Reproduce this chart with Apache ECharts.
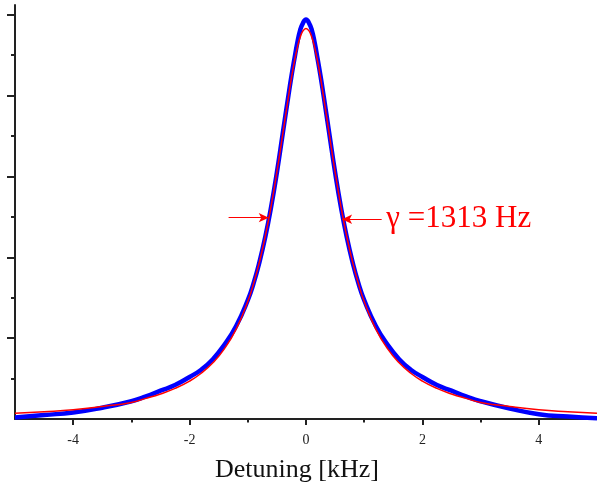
<!DOCTYPE html>
<html>
<head>
<meta charset="utf-8">
<script src="https://cdn.jsdelivr.net/npm/echarts@6/dist/echarts.min.js"></script>
<style>
  html, body { margin: 0; padding: 0; background: #fff; }
  #main { width: 597px; height: 488px; }
</style>
</head>
<body>
<div id="main"></div>
<script>
// 失谐量 (kHz)
var detuning = [-5, -4.5, -4, -3.5, -3, -2.75, -2.5, -2.25, -2, -1.8, -1.6, -1.4, -1.2, -1, -0.9, -0.8, -0.7, -0.6, -0.5, -0.4, -0.3, -0.25, -0.2, -0.15, -0.1, -0.05,
  0, 0.05, 0.1, 0.15, 0.2, 0.25, 0.3, 0.4, 0.5, 0.6, 0.7, 0.8, 0.9, 1, 1.2, 1.4, 1.6, 1.8, 2, 2.25, 2.5, 2.75, 3, 3.5, 4, 4.5, 5];
// 测量信号 (蓝)
var signalVals = [0.02, 0.05, 0.08, 0.14, 0.22, 0.28, 0.35, 0.42, 0.52, 0.61, 0.74, 0.92, 1.15, 1.47, 1.68, 1.94, 2.25, 2.62, 3.05, 3.53, 4.01, 4.24, 4.45, 4.65, 4.81, 4.90,
  4.94, 4.90, 4.81, 4.65, 4.45, 4.24, 4.01, 3.53, 3.05, 2.62, 2.25, 1.94, 1.68, 1.47, 1.15, 0.92, 0.74, 0.61, 0.52, 0.42, 0.35, 0.28, 0.22, 0.13, 0.06, 0.03, 0.01];
// 洛伦兹拟合 (红)
var fitVals = [0.07, 0.09, 0.115, 0.155, 0.205, 0.255, 0.31, 0.378, 0.469, 0.566, 0.695, 0.87, 1.111, 1.453, 1.676, 1.942, 2.258, 2.63, 3.055, 3.521, 3.994, 4.218, 4.419, 4.59, 4.72, 4.802,
  4.83, 4.802, 4.72, 4.59, 4.419, 4.218, 3.994, 3.521, 3.055, 2.63, 2.258, 1.942, 1.676, 1.453, 1.111, 0.87, 0.695, 0.566, 0.469, 0.378, 0.31, 0.255, 0.205, 0.155, 0.115, 0.09, 0.07];
// 刻度
var xMajorTicks = [-4, -2, 0, 2, 4];
var xMinorTicks = [-3, -1, 1, 3];
var yMajorTicks = [1, 2, 3, 4, 5];
var yMinorTicks = [0.5, 1.5, 2.5, 3.5, 4.5];
// 半高宽标注
var leftArrow = [[-1.33, 2.49], [-0.64, 2.49]];
var rightArrow = [[1.30, 2.47], [0.62, 2.47]];
var widthLabel = 'γ =1313 Hz';
var widthLabelAt = [1.38, 2.48];

var myChart = echarts.init(document.getElementById('main'));

var signalData = detuning.map(function (x, i) { return [x, signalVals[i]]; });
var fitData = detuning.map(function (x, i) { return [x, fitVals[i]]; });

var axisColor = '#222';
var serif = 'Liberation Serif';

var option = {
  animation: false,
  backgroundColor: '#fff',
  grid: { left: 15, right: -3, top: 5, bottom: 68 },
  xAxis: [{
    type: 'value', min: -5, max: 5, interval: 1,
    name: 'Detuning [kHz]', nameLocation: 'middle', nameGap: 38,
    nameTextStyle: { fontFamily: serif, fontSize: 26, color: '#111', padding: [0, 18, 0, 0] },
    axisLine: { show: true, onZero: false, lineStyle: { color: axisColor, width: 2 } },
    axisTick: { show: true, customValues: xMajorTicks, length: 6, lineStyle: { color: axisColor, width: 2 } },
    axisLabel: {
      customValues: xMajorTicks, fontFamily: serif, fontSize: 14, color: axisColor, margin: 14,
      formatter: function (v) { return v % 2 === 0 ? String(v) : ''; }
    },
    splitLine: { show: false }
  }, {
    type: 'value', min: -5, max: 5, position: 'bottom', gridIndex: 0,
    axisLine: { show: false, onZero: false },
    axisTick: { show: true, customValues: xMinorTicks, length: 3.5, lineStyle: { color: axisColor, width: 2 } },
    axisLabel: { show: false },
    splitLine: { show: false }
  }],
  yAxis: [{
    type: 'value', min: 0, max: 5.12,
    axisLine: { show: true, onZero: false, lineStyle: { color: axisColor, width: 2 } },
    axisTick: { show: true, customValues: yMajorTicks, length: 8, lineStyle: { color: axisColor, width: 2 } },
    axisLabel: { show: false },
    splitLine: { show: false }
  }, {
    type: 'value', min: 0, max: 5.12, position: 'left',
    axisLine: { show: false, onZero: false },
    axisTick: { show: true, customValues: yMinorTicks, length: 4, lineStyle: { color: axisColor, width: 2 } },
    axisLabel: { show: false },
    splitLine: { show: false }
  }],
  series: [{
    name: 'signal', type: 'line', data: signalData,
    showSymbol: false, smooth: 0.5, z: 2,
    lineStyle: { color: '#0000ff', width: 4.5 }
  }, {
    name: 'fit', type: 'line', data: fitData,
    showSymbol: false, smooth: 0.5, z: 3,
    lineStyle: { color: '#ff0000', width: 1.5 },
    markLine: {
      silent: true, symbol: ['none', 'arrow'], symbolSize: [7, 10],
      lineStyle: { color: '#ff0000', width: 1, type: 'solid' },
      label: { show: false },
      data: [
        [{ coord: leftArrow[0] }, { coord: leftArrow[1] }],
        [{ coord: rightArrow[0] }, { coord: rightArrow[1] }]
      ]
    },
    markPoint: {
      silent: true,
      data: [{
        coord: widthLabelAt, symbol: 'circle', symbolSize: 0,
        label: {
          show: true, position: 'right', distance: 0, formatter: widthLabel,
          color: '#ff0000', fontFamily: serif, fontSize: 31
        }
      }]
    }
  }]
};

myChart.setOption(option);
</script>
</body>
</html>
